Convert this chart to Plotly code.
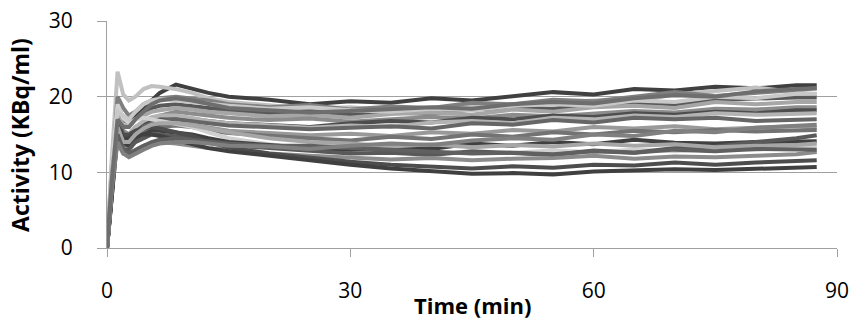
import plotly.graph_objects as go

# Time (min)
time_min = [0, 0.6, 1.3, 2, 2.7, 3.5, 4.5, 5.5, 6.5, 8.5, 10.5, 12.5, 15, 20, 25, 30, 35, 40, 45,
            50, 55, 60, 65, 70, 75, 80, 85, 87.5]

# Activity (KBq/ml) per curve
c01 = [0, 8, 18, 17, 16.5, 17.5, 18.5, 19.5, 20.5, 21.6, 21, 20.5, 20, 19.6, 19.0, 19.4, 19.2, 19.8, 19.5, 20.1, 20.6, 20.3, 21, 20.8, 21.3, 21.1, 21.5, 21.5]
c02 = [0, 12, 23.3, 20.3, 19.5, 20, 21, 21.4, 21.3, 21, 20.5, 19.8, 19.3, 18.8, 18.4, 18.6, 18.2, 18.5, 18.8, 18.4, 19.2, 19.5, 19.3, 20.3, 20.8, 21.2, 20.6, 20.3]
c03 = [0, 10, 20, 18.5, 17.5, 18, 19, 19.5, 19.8, 20, 19.8, 19.5, 19, 18.6, 18.9, 18.3, 18.7, 18.5, 19.2, 19.0, 19.6, 19.4, 20, 20.6, 20.1, 20.5, 21, 21.1]
c04 = [0, 9, 19, 17, 16.5, 17, 18, 18.5, 18.8, 19, 18.8, 18.5, 18.2, 17.8, 18.1, 17.6, 17.9, 17.7, 18.3, 18.5, 18.4, 19, 19.2, 19.0, 19.6, 19.8, 19.9, 19.9]
c05 = [0, 11, 18, 16.2, 16, 17, 17.5, 18, 18.2, 18.5, 18.3, 18, 17.8, 17.4, 17.6, 17.2, 17.7, 17.9, 17.6, 18.3, 18.0, 18.6, 18.8, 18.5, 19.3, 19.0, 19.3, 19.3]
c06 = [0, 9, 17, 15.5, 15, 16, 16.5, 17, 17.5, 18, 17.8, 17.5, 17.2, 16.9, 17.1, 16.7, 17.0, 17.3, 17.1, 17.6, 17.4, 17.8, 18.1, 17.9, 18.4, 18.3, 18.6, 18.6]
c07 = [0, 8, 16, 15, 14.5, 15.5, 16.5, 17, 17.2, 17.3, 17, 16.8, 16.5, 16.3, 16.0, 16.5, 16.8, 16.6, 17.2, 17.0, 17.5, 17.3, 17.8, 17.6, 18, 17.8, 18.2, 18.2]
c08 = [0, 10, 17, 15, 15, 16, 16.8, 17.3, 17.5, 17.5, 17.2, 16.8, 16.5, 16.2, 15.9, 16.2, 16.0, 16.6, 16.8, 16.5, 17.2, 17.0, 17.5, 17.3, 17.8, 17.6, 17.8, 17.8]
c09 = [0, 7, 15, 14, 14, 15, 16, 16.5, 16.8, 17, 16.8, 16.5, 16.2, 16, 15.7, 15.9, 16.1, 15.8, 16.5, 16.3, 16.9, 16.6, 17.2, 17.0, 17.2, 16.8, 17, 17.0]
c10 = [0, 9, 16, 14.5, 14, 15, 15.5, 16, 16.2, 16.5, 16.3, 16, 15.5, 15.2, 14.9, 15.1, 14.8, 15.3, 15.1, 15.6, 15.4, 16, 15.8, 16.1, 15.7, 15.9, 16.1, 15.9]
c11 = [0, 8, 15, 13.5, 13.5, 14.5, 15.3, 15.8, 16, 16.2, 16, 15.5, 15.2, 14.8, 14.5, 14.2, 14.7, 14.4, 15, 14.7, 15.3, 15.0, 15.5, 15.3, 15.6, 15.4, 15.6, 15.6]
c12 = [0, 11, 19, 17.2, 16.5, 17, 17.2, 17, 16.8, 16.5, 16, 15.3, 14.5, 13.7, 13.1, 12.8, 12.9, 12.5, 12.7, 12.6, 12.9, 12.7, 13, 12.8, 13.1, 13.0, 13.3, 13.3]
c13 = [0, 8, 16, 14, 13.5, 14.5, 15, 15.5, 15.5, 15.3, 15, 14.5, 14, 13.6, 13.2, 13.0, 13.3, 13.1, 13.8, 13.5, 14, 13.7, 14.3, 13.9, 13.8, 14, 14.1, 14.1]
c14 = [0, 7, 15, 13, 13, 14, 14.5, 15, 15, 14.8, 14.5, 14, 13.6, 13.2, 12.8, 12.5, 12.6, 12.3, 12.8, 12.5, 12.3, 12.9, 12.6, 13.2, 13.4, 14, 14.5, 14.9]
c15 = [0, 9, 14, 12.5, 12.5, 13, 13.5, 13.8, 14, 13.8, 13.5, 13.2, 13, 12.5, 12.2, 12, 11.7, 11.9, 11.6, 11.8, 11.9, 12.2, 11.8, 12.1, 12.0, 12.2, 12.4, 12.7]
c16 = [0, 7, 17, 15, 15, 15.5, 15.8, 16, 15.8, 15.3, 14.8, 14, 13.3, 12.5, 11.9, 11.4, 11, 10.7, 10.5, 10.8, 10.6, 11, 10.9, 11.3, 11.0, 11.3, 11.5, 11.6]
c17 = [0, 8, 16, 14.5, 14.5, 15, 15, 15, 14.8, 14.3, 13.8, 13.2, 12.8, 12.2, 11.5, 11, 10.5, 10.1, 9.8, 9.9, 9.7, 10.1, 10.2, 10.4, 10.3, 10.5, 10.7, 10.7]
c18 = [0, 10, 16, 14, 14, 15, 15.8, 16.3, 16.5, 16.5, 16.2, 15.8, 15.3, 14.5, 14, 13.8, 13.4, 13.7, 13.3, 13.6, 13.4, 13.8, 13.5, 13.7, 13.3, 13.5, 13.6, 13.8]
c19 = [0, 8, 15, 13, 12.5, 13, 13.5, 14, 14.3, 14.5, 14.3, 14, 13.8, 13.5, 13.5, 13.2, 13.0, 12.7, 12.5, 12.6, 12.4, 12.8, 12.6, 13, 12.8, 13.1, 13, 13]
c20 = [0, 9, 18, 17.5, 17, 18, 19, 19.5, 19.7, 19.5, 19.3, 19, 18.8, 18.4, 18.6, 18.2, 18.0, 18.4, 18.2, 18.8, 19, 18.8, 19.5, 19.3, 20, 19.8, 20.4, 20.4]
c21 = [0, 8, 14, 12.5, 12, 12.5, 13, 13.5, 13.8, 14, 14, 13.8, 13.5, 13.4, 13.1, 13.5, 13.8, 13.6, 14.2, 14.5, 14.3, 15, 14.8, 15.5, 15.3, 15.9, 16.1, 16.3]
c22 = [0, 9, 17, 16, 16, 17, 18, 19, 19.5, 19.8, 19.5, 19, 18.5, 18.2, 17.9, 18.1, 18.3, 18.6, 18.4, 19, 19.3, 19.1, 19.8, 20.2, 20.0, 20.7, 21, 21.1]

curves = [c01, c02, c03, c04, c05, c06, c07, c08, c09, c10, c11,
          c12, c13, c14, c15, c16, c17, c18, c19, c20, c21, c22]
grays = ["#404040", "#c0c0c0", "#7f7f7f", "#595959", "#a6a6a6", "#8c8c8c",
         "#4d4d4d", "#b3b3b3", "#666666", "#999999", "#737373", "#d0d0d0",
         "#404040", "#595959", "#8c8c8c", "#4d4d4d", "#404040", "#a6a6a6",
         "#606060", "#c8c8c8", "#808080", "#6e6e6e"]

x_ticks = [0, 30, 60, 90]
y_ticks = [0, 10, 20, 30]

fig = go.Figure()
for vals, col in zip(curves, grays):
    fig.add_trace(go.Scatter(x=time_min, y=vals, mode="lines",
                             line=dict(color=col, width=4), showlegend=False))

font = "Open Sans"
fig.update_layout(
    width=853, height=320,
    margin=dict(l=107, r=16, t=21, b=72, autoexpand=False),
    paper_bgcolor="white", plot_bgcolor="white",
    font=dict(family=font, size=21, color="#000000"),
    showlegend=False,
)
fig.update_xaxes(range=[0, 90], tickvals=x_ticks, showgrid=False, automargin=False,
                 showline=True, linecolor="#a0a0a0", linewidth=1,
                 ticks="outside", ticklen=8, tickcolor="#a0a0a0",
                 ticklabelstandoff=16, zeroline=False)
fig.update_yaxes(range=[0, 30], tickvals=y_ticks, showgrid=True, automargin=False,
                 gridcolor="#a0a0a0", gridwidth=1,
                 showline=True, linecolor="#a0a0a0", linewidth=1,
                 ticks="outside", ticklen=9, tickcolor="#a0a0a0",
                 ticklabelstandoff=20, zeroline=False)
fig.add_annotation(text="<b>Time (min)</b>", xref="paper", yref="paper",
                   x=0.5, y=-0.25, yanchor="middle", xanchor="center",
                   showarrow=False, font=dict(family=font, size=22, color="#000000"))
fig.add_annotation(text="<b>Activity (KBq/ml)</b>", xref="paper", yref="paper",
                   x=-0.12, xanchor="center", y=0.5, yanchor="middle",
                   textangle=-90, showarrow=False,
                   font=dict(family=font, size=23, color="#000000"))

fig.write_html("out.html")
